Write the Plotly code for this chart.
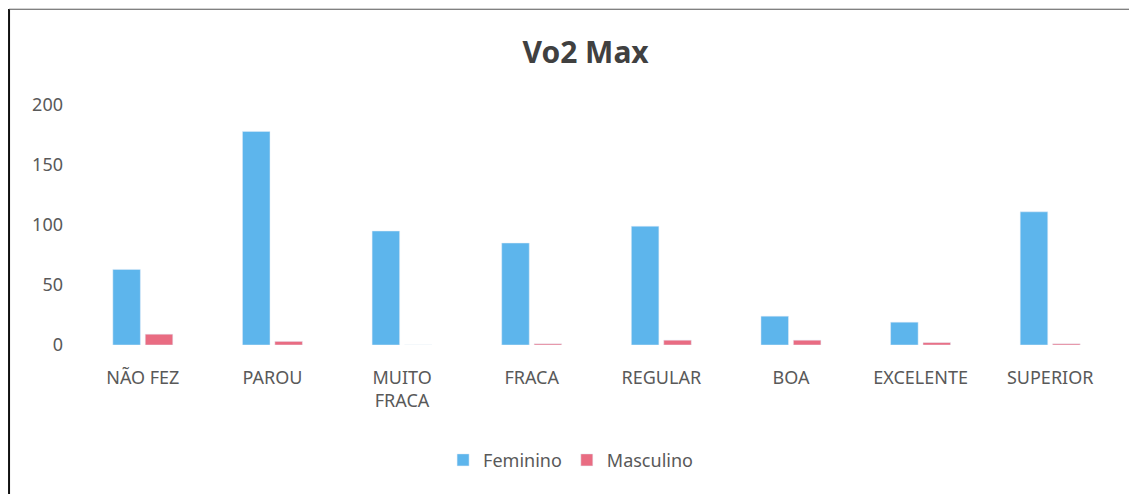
import plotly.graph_objects as go

# Data
categorias = ["NÃO FEZ", "PAROU", "MUITO<br>FRACA", "FRACA", "REGULAR", "BOA", "EXCELENTE", "SUPERIOR"]
feminino = [63, 178, 95, 85, 99, 24, 19, 111]
masculino = [9, 3, 0, 1, 4, 4, 2, 1]

fig = go.Figure()
fig.add_trace(go.Bar(x=categorias, y=feminino, name="Feminino", marker_color="#5DB5EC"))
fig.add_trace(go.Bar(x=categorias, y=masculino, name="Masculino", marker_color="#E96C82"))

fig.update_layout(
    width=1137, height=494,
    paper_bgcolor="white", plot_bgcolor="white",
    font=dict(family="Noto Sans, Open Sans, sans-serif", size=18, color="#595959"),
    title=dict(text="<b>Vo2 Max</b>", x=0.508, xanchor="center", y=0.91, yanchor="middle",
               font=dict(size=30, color="#404040")),
    margin=dict(l=70, r=30, t=97, b=157, autoexpand=False),
    barmode="group", bargap=0.5, bargroupgap=0.15,
    legend=dict(orientation="h", x=0.475, xanchor="center", y=-0.48, yanchor="middle",
                font=dict(size=18), itemwidth=30, traceorder="normal"),
    showlegend=True,
)
fig.update_xaxes(showgrid=False, showline=False, ticks="", tickfont=dict(size=18),
                 ticklabelstandoff=20, automargin=False)
fig.update_yaxes(range=[0, 200], dtick=50, showgrid=False, zeroline=False, automargin=False,
                 showline=False, ticks="", tickfont=dict(size=18), ticklabelstandoff=14)

# Border lines at left and top (cropped frame of the original)
fig.add_shape(type="line", xref="paper", yref="paper", x0=-0.0665, x1=-0.0665, y0=-0.7, y1=1.40,
              line=dict(color="#111111", width=2))
fig.add_shape(type="line", xref="paper", yref="paper", x0=-0.0665, x1=1.05, y0=1.399, y1=1.399,
              line=dict(color="#555555", width=1))

fig.write_html("out.html")
